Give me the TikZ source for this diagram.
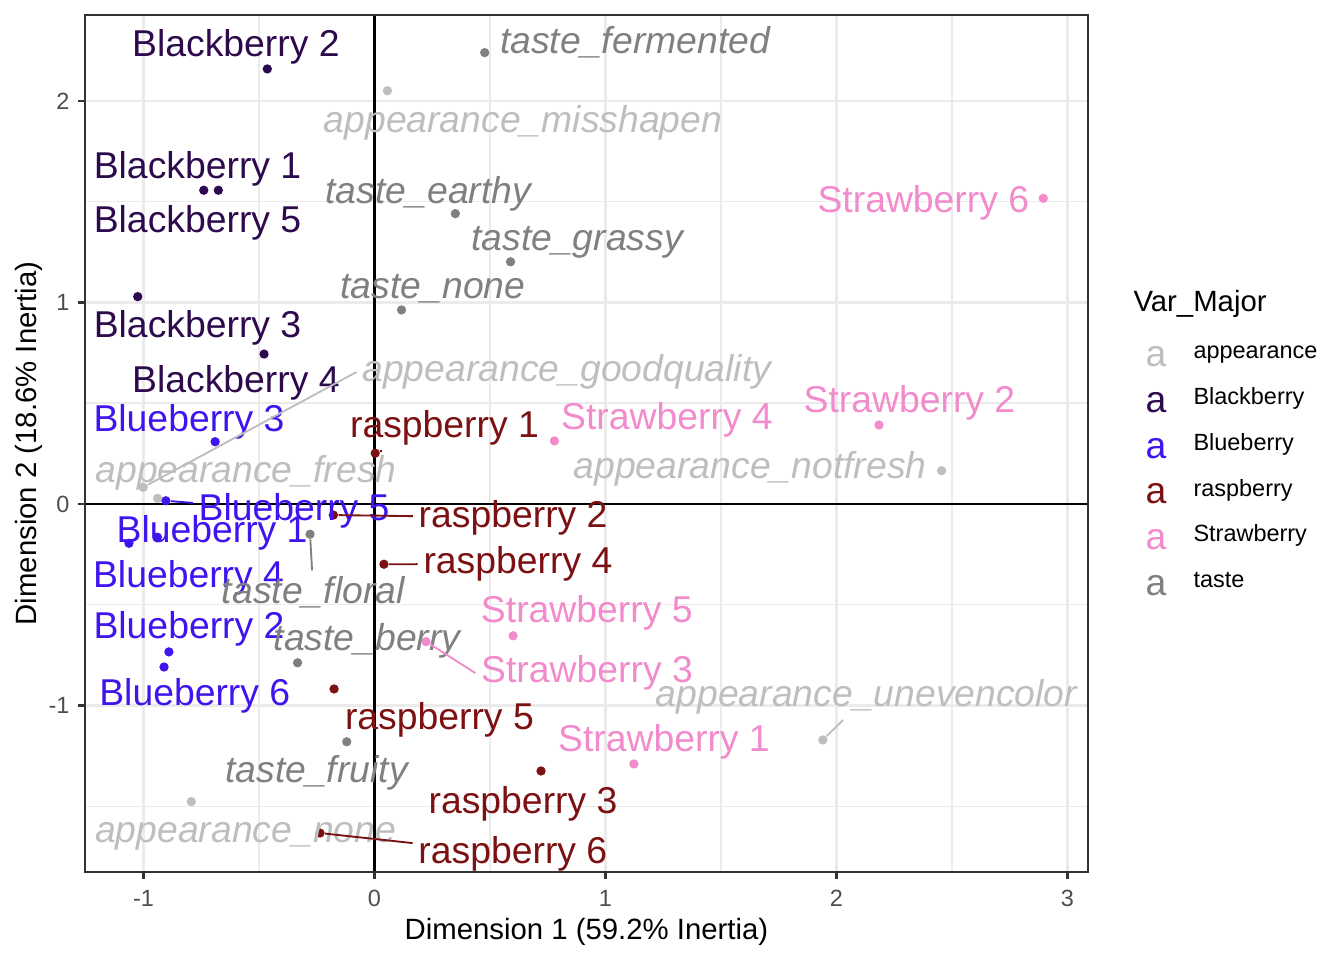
\documentclass[tikz,border=0pt]{standalone}
\usepackage{fontspec}
\setmainfont{Liberation Sans}
\definecolor{appearance}{HTML}{BEBEBE}
\definecolor{blackberry}{HTML}{2D0A4E}
\definecolor{blueberry}{HTML}{4014EE}
\definecolor{raspberry}{HTML}{7B1113}
\definecolor{strawberry}{HTML}{F28BCB}
\definecolor{taste}{HTML}{808080}
\definecolor{gridgrey}{HTML}{EBEBEB}
\definecolor{framegrey}{HTML}{333333}
\definecolor{tickgrey}{HTML}{4D4D4D}
\begin{document}
\begin{tikzpicture}[x=86.625pt,y=75.5625pt]
            \tikzstyle{dot}=[circle,inner sep=0pt,minimum size=3.5pt]
            \tikzstyle{fruit}=[inner sep=2pt,font=\fontsize{14}{16}\selectfont]
            \tikzstyle{attr}=[inner sep=2pt,font=\fontsize{14}{16}\selectfont\itshape]
            \tikzstyle{tick}=[inner sep=0pt,text=tickgrey,font=\fontsize{8.8}{10}\selectfont]
            \tikzstyle{legend}=[inner sep=0pt,anchor=base west,font=\fontsize{8.8}{10}\selectfont]
            \tikzset{seg/.style = {line width=0.7pt}}
            \tikzset{minor/.style = {gridgrey,line width=0.55pt}}
            \tikzset{major/.style = {gridgrey,line width=1.07pt}}
            \useasboundingbox (-1.62121,-2.26303) rectangle (4.19697,2.50124);
            % grid
            \draw[minor] (-0.5,-1.8263) -- (-0.5,2.4268);
            \draw[minor] (0.5,-1.8263) -- (0.5,2.4268);
            \draw[minor] (1.5,-1.8263) -- (1.5,2.4268);
            \draw[minor] (2.5,-1.8263) -- (2.5,2.4268);
            \draw[minor] (-1.2532,-1.5) -- (3.0887,-1.5);
            \draw[minor] (-1.2532,-0.5) -- (3.0887,-0.5);
            \draw[minor] (-1.2532,0.5) -- (3.0887,0.5);
            \draw[minor] (-1.2532,1.5) -- (3.0887,1.5);
            \draw[major] (-1,-1.8263) -- (-1,2.4268);
            \draw[major] (1,-1.8263) -- (1,2.4268);
            \draw[major] (2,-1.8263) -- (2,2.4268);
            \draw[major] (3,-1.8263) -- (3,2.4268);
            \draw[major] (-1.2532,-1) -- (3.0887,-1);
            \draw[major] (-1.2532,1) -- (3.0887,1);
            \draw[major] (-1.2532,2) -- (3.0887,2);
            \draw[black,line width=0.8pt] (0,-1.8263) -- (0,2.4268);
            \draw[black,line width=0.8pt] (-1.2532,0) -- (3.0887,0);
            % points
            \node[dot,fill=blackberry] (bb2) at (-0.464,2.159) {};
            \node[dot,fill=blackberry] (bb1) at (-0.739,1.557) {};
            \node[dot,fill=blackberry] (bb5) at (-0.676,1.557) {};
            \node[dot,fill=blackberry] (bb3) at (-1.025,1.029) {};
            \node[dot,fill=blackberry] (bb4) at (-0.478,0.744) {};
            \node[dot,fill=blueberry] (bu3) at (-0.690,0.309) {};
            \node[dot,fill=blueberry] (bu5) at (-0.903,0.016) {};
            \node[dot,fill=blueberry] (bu1) at (-0.940,-0.165) {};
            \node[dot,fill=blueberry] (bu4) at (-1.063,-0.195) {};
            \node[dot,fill=blueberry] (bu2) at (-0.890,-0.734) {};
            \node[dot,fill=blueberry] (bu6) at (-0.911,-0.809) {};
            \node[dot,fill=raspberry] (ra1) at (0.003,0.252) {};
            \node[dot,fill=raspberry] (ra2) at (-0.178,-0.055) {};
            \node[dot,fill=raspberry] (ra4) at (0.041,-0.299) {};
            \node[dot,fill=raspberry] (ra5) at (-0.175,-0.918) {};
            \node[dot,fill=raspberry] (ra3) at (0.721,-1.325) {};
            \node[dot,fill=raspberry] (ra6) at (-0.236,-1.633) {};
            \node[dot,fill=strawberry] (st6) at (2.895,1.517) {};
            \node[dot,fill=strawberry] (st2) at (2.184,0.392) {};
            \node[dot,fill=strawberry] (st4) at (0.779,0.313) {};
            \node[dot,fill=strawberry] (st5) at (0.600,-0.654) {};
            \node[dot,fill=strawberry] (st3) at (0.223,-0.683) {};
            \node[dot,fill=strawberry] (st1) at (1.123,-1.290) {};
            \node[dot,fill=appearance] (misshapen) at (0.056,2.051) {};
            \node[dot,fill=appearance] (good) at (-1.001,0.083) {};
            \node[dot,fill=appearance] (fresh) at (-0.939,0.028) {};
            \node[dot,fill=appearance] (notfresh) at (2.455,0.165) {};
            \node[dot,fill=appearance] (uneven) at (1.941,-1.171) {};
            \node[dot,fill=appearance] (anone) at (-0.793,-1.477) {};
            \node[dot,fill=taste] (fermented) at (0.477,2.240) {};
            \node[dot,fill=taste] (earthy) at (0.350,1.441) {};
            \node[dot,fill=taste] (grassy) at (0.589,1.202) {};
            \node[dot,fill=taste] (tnone) at (0.117,0.963) {};
            \node[dot,fill=taste] (floral) at (-0.279,-0.150) {};
            \node[dot,fill=taste] (berry) at (-0.333,-0.788) {};
            \node[dot,fill=taste] (fruity) at (-0.120,-1.180) {};
            % labels
            \node[fruit,text=blackberry] (lbb2) at (-0.600,2.268) {Blackberry 2};
            \node[fruit,text=blackberry] (lbb1) at (-0.766,1.664) {Blackberry 1};
            \node[fruit,text=blackberry] (lbb5) at (-0.766,1.393) {Blackberry 5};
            \node[fruit,text=blackberry] (lbb3) at (-0.766,0.873) {Blackberry 3};
            \node[fruit,text=blackberry] (lbb4) at (-0.600,0.600) {Blackberry 4};
            \node[fruit,text=blueberry] (lbu3) at (-0.803,0.408) {Blueberry 3};
            \node[fruit,text=blueberry] (lbu5) at (-0.348,-0.035) {Blueberry 5};
            \node[fruit,text=blueberry] (lbu1) at (-0.703,-0.141) {Blueberry 1};
            \node[fruit,text=blueberry] (lbu4) at (-0.805,-0.365) {Blueberry 4};
            \node[fruit,text=blueberry] (lbu2) at (-0.803,-0.620) {Blueberry 2};
            \node[fruit,text=blueberry] (lbu6) at (-0.778,-0.952) {Blueberry 6};
            \node[fruit,text=raspberry] (lra1) at (0.303,0.380) {raspberry 1};
            \node[fruit,text=raspberry] (lra2) at (0.600,-0.067) {raspberry 2};
            \node[fruit,text=raspberry] (lra4) at (0.621,-0.298) {raspberry 4};
            \node[fruit,text=raspberry] (lra5) at (0.281,-1.072) {raspberry 5};
            \node[fruit,text=raspberry] (lra3) at (0.643,-1.489) {raspberry 3};
            \node[fruit,text=raspberry] (lra6) at (0.599,-1.737) {raspberry 6};
            \node[fruit,text=strawberry] (lst6) at (2.376,1.496) {Strawberry 6};
            \node[fruit,text=strawberry] (lst2) at (2.316,0.501) {Strawberry 2};
            \node[fruit,text=strawberry] (lst4) at (1.266,0.417) {Strawberry 4};
            \node[fruit,text=strawberry] (lst5) at (0.919,-0.541) {Strawberry 5};
            \node[fruit,text=strawberry] (lst3) at (0.920,-0.839) {Strawberry 3};
            \node[fruit,text=strawberry] (lst1) at (1.253,-1.180) {Strawberry 1};
            \node[attr,text=appearance] (lmisshapen) at (0.643,1.891) {appearance\_misshapen};
            \node[attr,text=appearance] (lgood) at (0.833,0.655) {appearance\_goodquality};
            \node[attr,text=appearance] (lfresh) at (-0.556,0.156) {appearance\_fresh};
            \node[attr,text=appearance] (lnotfresh) at (1.626,0.174) {appearance\_notfresh};
            \node[attr,text=appearance] (luneven) at (2.130,-0.956) {appearance\_unevencolor};
            \node[attr,text=appearance] (lanone) at (-0.558,-1.651) {appearance\_none};
            \node[attr,text=taste] (lfermented) at (1.128,2.293) {taste\_fermented};
            \node[attr,text=taste] (learthy) at (0.233,1.538) {taste\_earthy};
            \node[attr,text=taste] (lgrassy) at (0.877,1.298) {taste\_grassy};
            \node[attr,text=taste] (ltnone) at (0.253,1.067) {taste\_none};
            \node[attr,text=taste] (lfloral) at (-0.265,-0.437) {taste\_floral};
            \node[attr,text=taste] (lberry) at (-0.032,-0.680) {taste\_berry};
            \node[attr,text=taste] (lfruity) at (-0.251,-1.335) {taste\_fruity};
            \draw[seg,blueberry] (bu5) -- (lbu5);
            \draw[seg,raspberry] (ra1) -- (lra1);
            \draw[seg,raspberry] (ra2) -- (lra2);
            \draw[seg,raspberry] (ra4) -- (lra4);
            \draw[seg,raspberry] (ra6) -- (lra6);
            \draw[seg,strawberry] (st3) -- (lst3.west);
            \draw[seg,taste] (floral) -- (lfloral);
            \draw[seg,appearance] (good) -- (lgood.west);
            \draw[seg,appearance] (uneven) -- (luneven);
            % frame and axes
            \draw[framegrey,line width=1.07pt] (-1.2532,-1.8263) rectangle (3.0887,2.4268);
            \draw[framegrey,line width=1.07pt] (-1,-1.8263) -- (-1,-1.8625);
            \draw[framegrey,line width=1.07pt] (0,-1.8263) -- (0,-1.8625);
            \draw[framegrey,line width=1.07pt] (1,-1.8263) -- (1,-1.8625);
            \draw[framegrey,line width=1.07pt] (2,-1.8263) -- (2,-1.8625);
            \draw[framegrey,line width=1.07pt] (3,-1.8263) -- (3,-1.8625);
            \draw[framegrey,line width=1.07pt] (-1.2532,-1) -- (-1.2848,-1);
            \draw[framegrey,line width=1.07pt] (-1.2532,0) -- (-1.2848,0);
            \draw[framegrey,line width=1.07pt] (-1.2532,1) -- (-1.2848,1);
            \draw[framegrey,line width=1.07pt] (-1.2532,2) -- (-1.2848,2);
            \node[tick] (xm1) at (-1,-1.9553) {-1};
            \node[tick] (x0) at (0,-1.9553) {0};
            \node[tick] (x1) at (1,-1.9553) {1};
            \node[tick] (x2) at (2,-1.9553) {2};
            \node[tick] (x3) at (3,-1.9553) {3};
            \node[tick,anchor=east] (ym1) at (-1.3182,-1) {-1};
            \node[tick,anchor=east] (y0) at (-1.3182,0) {0};
            \node[tick,anchor=east] (y1) at (-1.3182,1) {1};
            \node[tick,anchor=east] (y2) at (-1.3182,2) {2};
            \node[inner sep=0pt,font=\fontsize{11}{13}\selectfont] (xtitle) at (0.9177,-2.1226) {Dimension 1 (59.2\% Inertia)};
            \node[inner sep=0pt,rotate=90,font=\fontsize{11}{13}\selectfont] (ytitle) at (-1.4957,0.3002) {Dimension 2 (18.6\% Inertia)};
            % legend
            \node[legend,font=\fontsize{11}{13}\selectfont] (legtitle) at (3.2835,0.953) {Var\_Major};
            \node[inner sep=0pt,anchor=base,text=appearance,font=\fontsize{14}{16}\selectfont] (ka) at (3.3831,0.683) {a};
            \node[inner sep=0pt,anchor=base,text=blackberry,font=\fontsize{14}{16}\selectfont] (kb) at (3.3831,0.456) {a};
            \node[inner sep=0pt,anchor=base,text=blueberry,font=\fontsize{14}{16}\selectfont] (kc) at (3.3831,0.228) {a};
            \node[inner sep=0pt,anchor=base,text=raspberry,font=\fontsize{14}{16}\selectfont] (kd) at (3.3831,0.001) {a};
            \node[inner sep=0pt,anchor=base,text=strawberry,font=\fontsize{14}{16}\selectfont] (ke) at (3.3831,-0.226) {a};
            \node[inner sep=0pt,anchor=base,text=taste,font=\fontsize{14}{16}\selectfont] (kf) at (3.3831,-0.453) {a};
            \node[legend] (la) at (3.5433,0.721) {appearance};
            \node[legend] (lb) at (3.5433,0.494) {Blackberry};
            \node[legend] (lc) at (3.5433,0.267) {Blueberry};
            \node[legend] (ld) at (3.5433,0.039) {raspberry};
            \node[legend] (le) at (3.5433,-0.188) {Strawberry};
            \node[legend] (lf) at (3.5433,-0.415) {taste};
\end{tikzpicture}
\end{document}
